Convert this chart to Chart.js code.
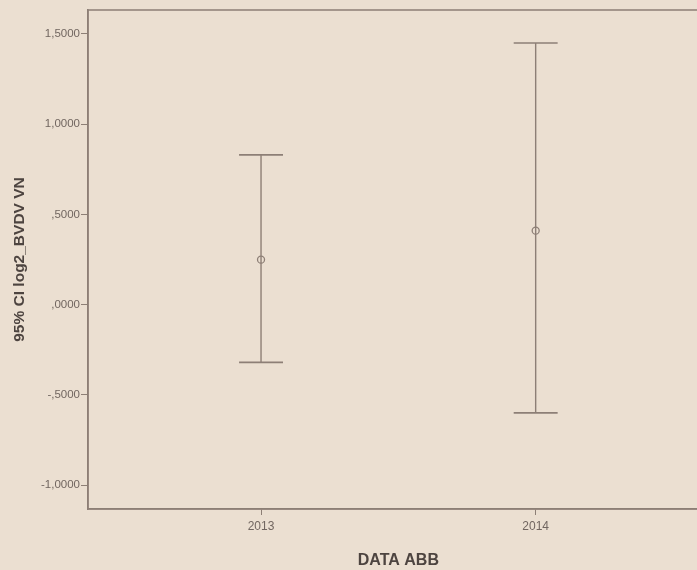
<!DOCTYPE html>
<html><head><meta charset="utf-8">
<script src="https://cdn.jsdelivr.net/npm/chart.js@4/dist/chart.umd.min.js"></script>
<style>
html,body{margin:0;padding:0;background:#ebdfd1;overflow:hidden;width:697px;height:570px;}
#wrap{position:absolute;left:0;top:0;width:714px;height:570px;}
</style></head>
<body>
<div id="wrap"><canvas id="c" width="714" height="570"></canvas></div>
<script>
const categories = [2013, 2014];
const means = [0.249, 0.41];
const lower = [-0.32, -0.60];
const upper = [0.83, 1.45];
const yTicks = [-1.0, -0.5, 0.0, 0.5, 1.0, 1.5];
const yTitle = '95% CI log2_BVDV VN';
const xTitle = 'DATA ABB';

const lineCol = '#8d7f76';
const capHalf = 0.08;
const datasets = [];
datasets.push({type:'scatter', data: categories.map((c,i)=>({x:c,y:means[i]})), pointStyle:'circle', pointRadius:3.5, borderColor:lineCol, backgroundColor:'rgba(0,0,0,0)', borderWidth:1.3});
categories.forEach((c,i)=>{
  datasets.push({type:'line', data:[{x:c,y:lower[i]},{x:c,y:upper[i]}], borderColor:lineCol, borderWidth:1.4, pointRadius:0});
  datasets.push({type:'line', data:[{x:c-capHalf,y:upper[i]},{x:c+capHalf,y:upper[i]}], borderColor:lineCol, borderWidth:1.6, pointRadius:0});
  datasets.push({type:'line', data:[{x:c-capHalf,y:lower[i]},{x:c+capHalf,y:lower[i]}], borderColor:lineCol, borderWidth:1.6, pointRadius:0});
});

const frame = {id:'frame', afterDraw(ch){const a=ch.chartArea,x=ch.ctx;x.save();x.strokeStyle=lineCol;x.lineWidth=1.5;x.strokeRect(a.left,a.top,a.right-a.left,a.bottom-a.top);x.restore();}};

const fmt = v => { if (Math.abs(v)<1e-9) return ',0000'; const s=Math.abs(v).toFixed(4).replace('.',','); return (v<0?'-':'')+(Math.abs(v)<1?s.replace(/^0/,''):s); };

new Chart(document.getElementById('c'), {
  data:{datasets},
  options:{
    responsive:false, animation:false,
    layout:{padding:{left:10,top:10,right:0,bottom:0}},
    plugins:{legend:{display:false},tooltip:{enabled:false}},
    scales:{
      x:{type:'linear', min:2012.37, max:2014.63,
        afterBuildTicks(s){s.ticks=categories.map(v=>({value:v}));},
        afterFit(s){s.height=61;},
        grid:{display:true,drawOnChartArea:false,drawTicks:true,tickLength:6,color:lineCol},
        border:{display:true,color:lineCol,width:1.5},
        ticks:{color:'#716660',font:{family:'Liberation Sans',size:12},padding:4,callback:v=>String(v)},
        title:{display:true,text:xTitle,color:'#4d4440',font:{family:'Liberation Sans',size:16,weight:'bold'},padding:{top:8,bottom:0}}
      },
      y:{type:'linear', min:-1.133, max:1.633,
        afterBuildTicks(s){s.ticks=yTicks.map(v=>({value:v}));},
        afterFit(s){s.width=78;},
        grid:{display:true,drawOnChartArea:false,drawTicks:true,tickLength:7,color:lineCol},
        border:{display:true,color:lineCol,width:1.5},
        ticks:{color:'#716660',font:{family:'Liberation Sans',size:11.5},padding:1,callback:v=>fmt(v)},
        title:{display:true,text:yTitle,color:'#4d4440',font:{family:'Liberation Sans',size:15.5,weight:'bold'},padding:{top:0,bottom:0}}
      }
    }
  },
  plugins:[frame]
});
</script>
</body></html>
